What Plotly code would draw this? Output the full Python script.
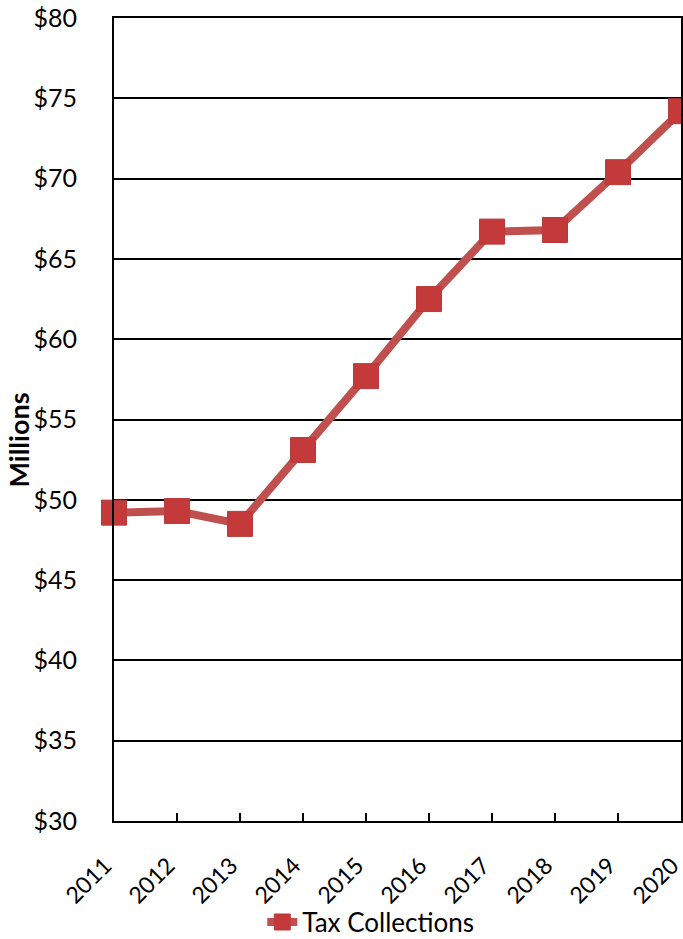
import plotly.graph_objects as go

years = [2011, 2012, 2013, 2014, 2015, 2016, 2017, 2018, 2019, 2020]
tax_collections = [49.2, 49.3, 48.5, 53.1, 57.7, 62.5, 66.7, 66.8, 70.4, 74.2]
y_ticks = [30, 35, 40, 45, 50, 55, 60, 65, 70, 75, 80]
y_tick_labels = ["$" + str(v) for v in y_ticks]

font_family = "Lato, 'Open Sans', sans-serif"

fig = go.Figure()
fig.add_trace(go.Scatter(
    x=years, y=tax_collections, mode="lines+markers", name="Tax Collections",
    line=dict(color="#C0504D", width=8),
    marker=dict(symbol="square", size=25, color="#C4393A",
                line=dict(color="#B83A3A", width=1)),
    cliponaxis=False,
))

fig.update_layout(
    width=683, height=939,
    margin=dict(l=114, r=2, t=18, b=118),
    plot_bgcolor="white", paper_bgcolor="white",
    font=dict(family=font_family, color="black"),
    showlegend=True,
    legend=dict(orientation="h", xref="container", yref="container",
                x=0.384, xanchor="left", y=0.018, yanchor="middle",
                bgcolor="rgba(0,0,0,0)", borderwidth=0,
                font=dict(size=26, family=font_family)),
    xaxis=dict(
        range=[2011, 2020], tickmode="array", tickvals=years,
        ticktext=[str(y) for y in years], tickangle=-45,
        tickfont=dict(size=23), showgrid=False, zeroline=False,
        showline=True, linecolor="black", linewidth=2, mirror=True,
        ticks="inside", ticklen=8, tickwidth=2, tickcolor="black",
        ticklabelstandoff=20, ticklabelshift=-9,
        ticklabeloverflow="allow", automargin=False,
    ),
    yaxis=dict(
        range=[30, 80], tickmode="array", tickvals=y_ticks, ticktext=y_tick_labels,
        tickfont=dict(size=25), showgrid=True, gridcolor="black", gridwidth=1.5,
        zeroline=False, showline=True, linecolor="black", linewidth=2, mirror=True,
        ticks="", ticklabelstandoff=30, automargin=False,
    ),
    annotations=[dict(
        text="<b>Millions</b>", xref="paper", yref="paper",
        x=-0.169, y=0.474, xanchor="center", yanchor="middle",
        textangle=-90, showarrow=False, font=dict(size=27, family=font_family),
    )],
)

fig.write_html("out.html")
